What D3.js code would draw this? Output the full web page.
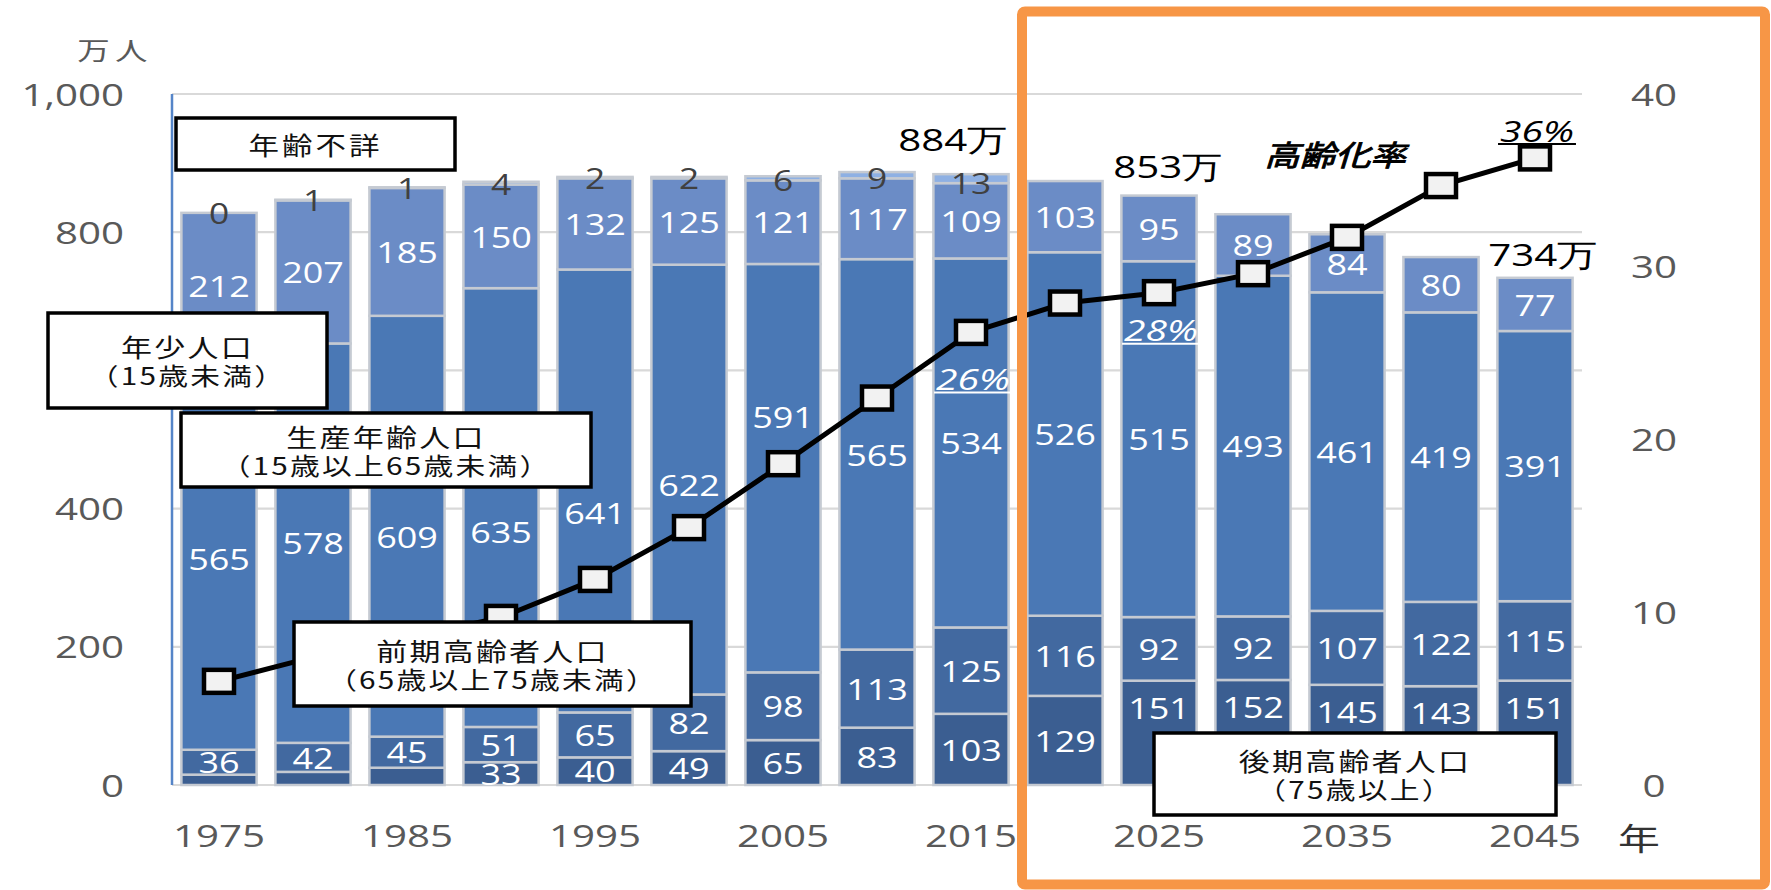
<!DOCTYPE html>
<html><head><meta charset="utf-8">
<script src="https://cdn.jsdelivr.net/npm/d3@7/dist/d3.min.js"></script>
<style>
html,body{margin:0;padding:0;background:#fff;}
svg{display:block;}
</style></head>
<body><svg id="c" width="1771" height="890"></svg>
<script>
// ---------------- data ----------------
const years = [1975,1980,1985,1990,1995,2000,2005,2010,2015,2020,2025,2030,2035,2040,2045];
const old75   = [15,19,25,33,40,49,65,83,103,129,151,152,145,143,151];   // 後期高齢者 (75歳以上)
const old65   = [36,42,45,51,65,82,98,113,125,116,92,92,107,122,115];    // 前期高齢者 (65-74)
const working = [565,578,609,635,641,622,591,565,534,526,515,493,461,419,391]; // 生産年齢 (15-64)
const young   = [212,207,185,150,132,125,121,117,109,103,95,89,84,80,77]; // 年少 (0-14)
const unknown = [0,1,1,4,2,2,6,9,13,null,null,null,null,null,null];      // 年齢不詳
const agingRate = [6.0,7.4,8.5,9.7,11.9,14.9,18.6,22.4,26.2,27.9,28.5,29.6,31.7,34.7,36.3]; // 高齢化率 %
const leftTicks = [0,200,400,600,800,1000];
const leftTickLabels = [0,200,400,800,1000];   // 600 is hidden behind the 年少人口 box in the original
const rightTicks = [0,10,20,30,40];
const xTickYears = [1975,1985,1995,2005,2015,2025,2035,2045];
const totalLabelYears = [2015,2025,2045];
const totalLabelTexts = ["884万","853万","734万"];
const rateLabelYears = [2015,2025,2045];
const rateLabelTexts = ["26%","28%","36%"];

// ---------------- layout / style ----------------
const NUM = "'Open Sans','DejaVu Sans',sans-serif";
const JP = "'Noto Sans CJK JP','Noto Sans CJK SC',sans-serif";
const SX = 1.3;
const plot = {left:172, right:1582, top:94, bottom:785};
const keys = ["old75","old65","working","young","unknown"];
const colors = {old75:"#3b5e91", old65:"#4269a0", working:"#4a78b5", young:"#6b8cc6", unknown:"#8eb0e3"};
// label nudges (pixels) so labels avoid the line / callout boxes, as in the original
const workingLabelDy = [4,0,11,24,22,5,-51,0,0,0,0,0,0,0,0];

const svg = d3.select("#c");
const x = d3.scaleBand().domain(years).range([plot.left, plot.right]).paddingInner(0.2).paddingOuter(0.1);
const y = d3.scaleLinear().domain([0,1000]).range([plot.bottom, plot.top]);
const yR = d3.scaleLinear().domain([0,40]).range([plot.bottom, plot.top]);
const cx = yr => x(yr) + x.bandwidth()/2;

function stext(g, px, py, str, o) {
  o = o || {};
  const t = g.append("text")
    .attr("transform", `translate(${px},${py}) scale(${o.sx||SX},1)`)
    .attr("text-anchor", o.anchor || "middle")
    .attr("dominant-baseline", "central")
    .attr("font-family", o.font || NUM)
    .attr("font-size", o.size || 30)
    .attr("fill", o.fill || "#000")
    .text(str);
  if (o.italic) t.attr("font-style","italic");
  if (o.weight) t.attr("font-weight", o.weight);
  if (o.ls != null) t.attr("letter-spacing", o.ls);
  if (o.stroke) t.attr("stroke", o.stroke).attr("stroke-width", o.sw || 0.6);
  return t;
}

// gridlines
const grid = svg.append("g");
grid.selectAll("line").data(leftTicks).join("line")
  .attr("x1", plot.left).attr("x2", plot.right)
  .attr("y1", d => y(d)).attr("y2", d => y(d))
  .attr("stroke", "#d9d9d9").attr("stroke-width", 2.2);

// left axis line
svg.append("line").attr("x1", plot.left).attr("x2", plot.left)
  .attr("y1", y(1000)).attr("y2", y(0))
  .attr("stroke", "#5585c8").attr("stroke-width", 2.5);

// axis tick labels
const axG = svg.append("g");
leftTickLabels.forEach(t => stext(axG, 124, y(t), d3.format(",")(t), {anchor:"end", size:31, fill:"#595959"}));
rightTicks.forEach(t => stext(axG, 1654, yR(t), String(t), {size:31, fill:"#595959"}));
xTickYears.forEach(t => stext(axG, cx(t), 835, String(t), {size:31, fill:"#595959"}));
stext(axG, 1639, 837, "年", {font:JP, size:31, fill:"#333", sx:1.35});
stext(axG, 115, 49, "万人", {font:JP, size:25, fill:"#595959", ls:4});

// stacked bars
const rows = years.map((yr,i) => ({year:yr, old75:old75[i], old65:old65[i], working:working[i], young:young[i], unknown:unknown[i]==null?0:unknown[i]}));
const stack = d3.stack().keys(keys)(rows);
const barG = svg.append("g");
stack.forEach(layer => {
  barG.selectAll(null).data(layer).join("rect")
    .attr("x", d => x(d.data.year))
    .attr("width", x.bandwidth())
    .attr("y", d => y(d[1]))
    .attr("height", d => Math.max(0, y(d[0]) - y(d[1])))
    .attr("fill", colors[layer.key])
    .attr("stroke", "#c5cad2")
    .attr("stroke-width", 2.5);
});

// segment labels
const lblG = svg.append("g");
stack.forEach(layer => {
  layer.forEach((d,i) => {
    const v = d.data[layer.key];
    const px = cx(d.data.year);
    if (layer.key === "unknown") {
      if (unknown[i] == null) return;
      stext(lblG, px, y(d[0]) - 1, String(unknown[i]), {size:29, fill:"#404040", sx:1.22});
      return;
    }
    if (v < 30) return;
    let py = (y(d[0]) + y(d[1]))/2;
    if (layer.key === "working") py += workingLabelDy[i];
    // 75+ labels after 2020 sit at the top of their segment, above the callout box
    if (layer.key === "old75" && d.data.year >= 2025) py = y(d[1]) + 27;
    stext(lblG, px, py, String(v), {size:29.5, fill:"#fff", sx:1.22});
  });
});

// aging-rate line
const lineG = svg.append("g");
lineG.append("path")
  .attr("d", d3.line().x((d,i) => cx(years[i])).y(d => yR(d))(agingRate))
  .attr("fill","none").attr("stroke","#000").attr("stroke-width",5);
lineG.selectAll("rect").data(agingRate).join("rect")
  .attr("x", (d,i) => cx(years[i]) - 15).attr("y", d => yR(d) - 11.5)
  .attr("width", 30).attr("height", 23)
  .attr("fill", "#f2f2f2").attr("stroke", "#000").attr("stroke-width", 4.5);

// rate labels (underlined, italic)
const rateDy = [46, 37, -28];
const rateFill = ["#fff", "#fff", "#000"];
rateLabelYears.forEach((yr,k) => {
  const i = years.indexOf(yr);
  const px = cx(yr) + 2, py = yR(agingRate[i]) + rateDy[k];
  const t = stext(lineG, px, py, rateLabelTexts[k], {size:30, italic:true, fill:rateFill[k]});
  const w = t.node().getComputedTextLength() * SX;
  lineG.append("line").attr("x1", px - w/2 - 2).attr("x2", px + w/2 + 2)
    .attr("y1", py + 14).attr("y2", py + 14)
    .attr("stroke", rateFill[k]).attr("stroke-width", 2);
});

// totals
const totDx = [-18, 9, 8], totDy = [35, 29, 23];
totalLabelYears.forEach((yr,k) => {
  const i = years.indexOf(yr);
  const tot = old75[i]+old65[i]+working[i]+young[i]+(unknown[i]||0);
  stext(lineG, cx(yr) + totDx[k], y(tot) - totDy[k], totalLabelTexts[k], {size:31, fill:"#000", sx:1.3});
});

// series name
stext(lineG, 1335, 153, "高齢化率", {font:JP, size:29, italic:true, fill:"#000", sx:1.22, stroke:"#000", sw:0.9});

// annotation boxes
const boxes = [
  {x0:176, y0:118, x1:455, y1:170, lines:["年齢不詳"]},
  {x0:48,  y0:313, x1:327, y1:408, lines:["年少人口","（15歳未満）"]},
  {x0:181, y0:413, x1:591, y1:487, lines:["生産年齢人口","（15歳以上65歳未満）"]},
  {x0:294, y0:622, x1:691, y1:706, lines:["前期高齢者人口","（65歳以上75歳未満）"]},
  {x0:1154,y0:733, x1:1556,y1:815, lines:["後期高齢者人口","（75歳以上）"]}
];
const boxG = svg.append("g");
boxes.forEach(b => {
  boxG.append("rect").attr("x", b.x0).attr("y", b.y0)
    .attr("width", b.x1 - b.x0).attr("height", b.y1 - b.y0)
    .attr("fill", "#fff").attr("stroke", "#000").attr("stroke-width", 3.5);
  const mx = (b.x0 + b.x1)/2, my = (b.y0 + b.y1)/2;
  if (b.lines.length === 1) {
    stext(boxG, mx, my, b.lines[0], {font:JP, size:25, ls:2.5, fill:"#111", sx:1.22});
  } else {
    const t = boxG.append("text")
      .attr("transform", `translate(${mx},${my}) scale(1.24,1)`)
      .attr("text-anchor", "middle")
      .attr("dominant-baseline", "central")
      .attr("font-family", JP).attr("fill", "#111");
    t.append("tspan").attr("x", 0).attr("y", -15)
      .attr("font-size", 25).attr("letter-spacing", 1.8).text(b.lines[0]);
    t.append("tspan").attr("x", 0).attr("y", 14)
      .attr("font-size", 24).attr("letter-spacing", 1.8).text(b.lines[1]);
  }
});

// orange highlight frame
svg.append("rect").attr("x", 1022).attr("y", 11.5).attr("width", 743).attr("height", 873)
  .attr("rx", 3).attr("fill", "none").attr("stroke", "#f79646").attr("stroke-width", 10);
</script>
</body></html>
